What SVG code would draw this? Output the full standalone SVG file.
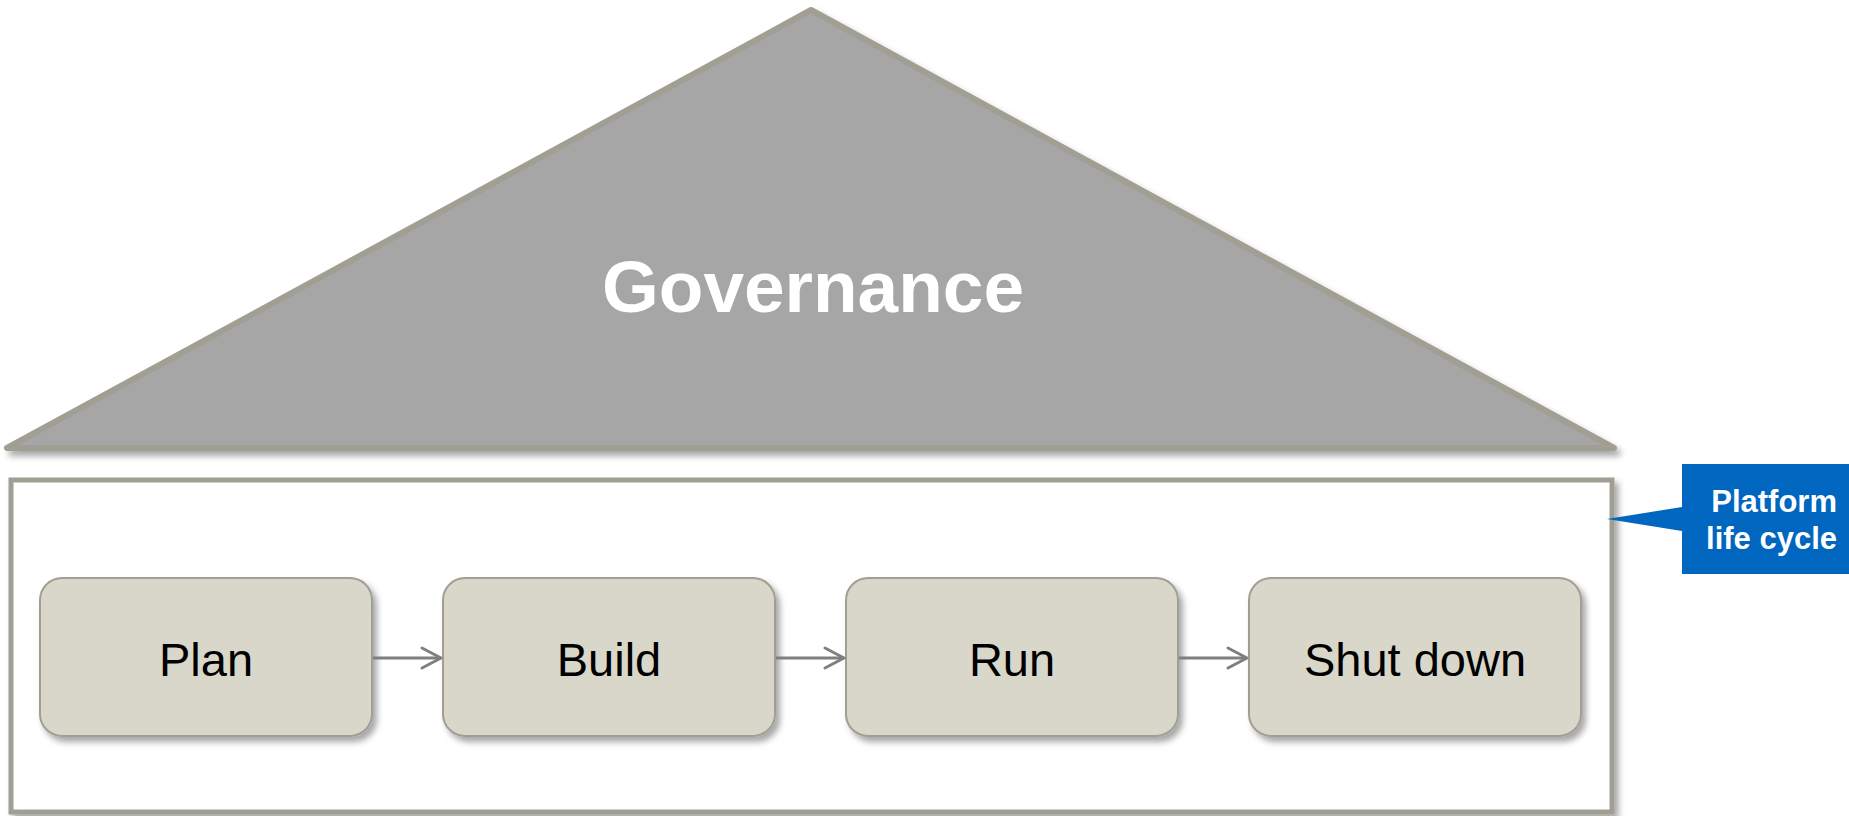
<svg xmlns="http://www.w3.org/2000/svg" width="1849" height="816" viewBox="0 0 1849 816">
<style>
.box{fill:#d9d7ca;stroke:#a19e94;stroke-width:2}
.lbl{font-family:"Liberation Sans",Arial,sans-serif;font-size:47px;fill:#000;text-anchor:middle}
.conn{stroke:#7f7f7f;stroke-width:3;fill:none}
</style>
<defs>
<filter id="sh" x="-10%" y="-10%" width="130%" height="140%">
<feDropShadow dx="4" dy="5" stdDeviation="3" flood-color="#000" flood-opacity="0.35"/>
</filter>
<marker id="arr" viewBox="0 0 12 12" refX="11" refY="6" markerWidth="12" markerHeight="12" markerUnits="userSpaceOnUse" orient="auto" overflow="visible">
<path d="M-8,-4 L11,6 L-8,16" fill="none" stroke="#7f7f7f" stroke-width="3" stroke-linecap="round" stroke-linejoin="round"/>
</marker>
</defs>
<rect width="1849" height="816" fill="#fff"/>
<g id="governance">
<polygon points="811,10 7,448 1614,448" fill="#a6a6a6" stroke="#a19e94" stroke-width="6" stroke-linejoin="round" filter="url(#sh)"/>
<text x="813" y="312" font-family="'Liberation Sans',Arial,sans-serif" font-size="73" font-weight="bold" fill="#fff" text-anchor="middle">Governance</text>
</g>
<g id="lifecycle">
<rect x="11" y="480" width="1601" height="332" fill="#fff" stroke="#a19e94" stroke-width="5" filter="url(#sh)"/>
</g>
<g id="callout">
<path d="M1682,464 H1849 V574 H1682 V531 L1607,519 L1682,507 Z" fill="#0066bf"/>
<text font-family="'Liberation Sans',Arial,sans-serif" font-size="31" font-weight="bold" fill="#fff" text-anchor="end"><tspan x="1837" y="512">Platform</tspan><tspan x="1837" y="549">life cycle</tspan></text>
</g>
<g id="plan">
<rect class="box" x="40" y="578" width="332" height="158" rx="22" filter="url(#sh)"/>
<text class="lbl" x="206" y="676">Plan</text>
</g>
<g id="build">
<rect class="box" x="443" y="578" width="332" height="158" rx="22" filter="url(#sh)"/>
<text class="lbl" x="609" y="676">Build</text>
</g>
<g id="run">
<rect class="box" x="846" y="578" width="332" height="158" rx="22" filter="url(#sh)"/>
<text class="lbl" x="1012" y="676">Run</text>
</g>
<g id="shutdown">
<rect class="box" x="1249" y="578" width="332" height="158" rx="22" filter="url(#sh)"/>
<text class="lbl" x="1415" y="676">Shut down</text>
</g>
<g id="connectors">
<line class="conn" x1="373" y1="658" x2="441" y2="658" marker-end="url(#arr)"/>
<line class="conn" x1="776" y1="658" x2="844" y2="658" marker-end="url(#arr)"/>
<line class="conn" x1="1179" y1="658" x2="1247" y2="658" marker-end="url(#arr)"/>
</g>
</svg>
